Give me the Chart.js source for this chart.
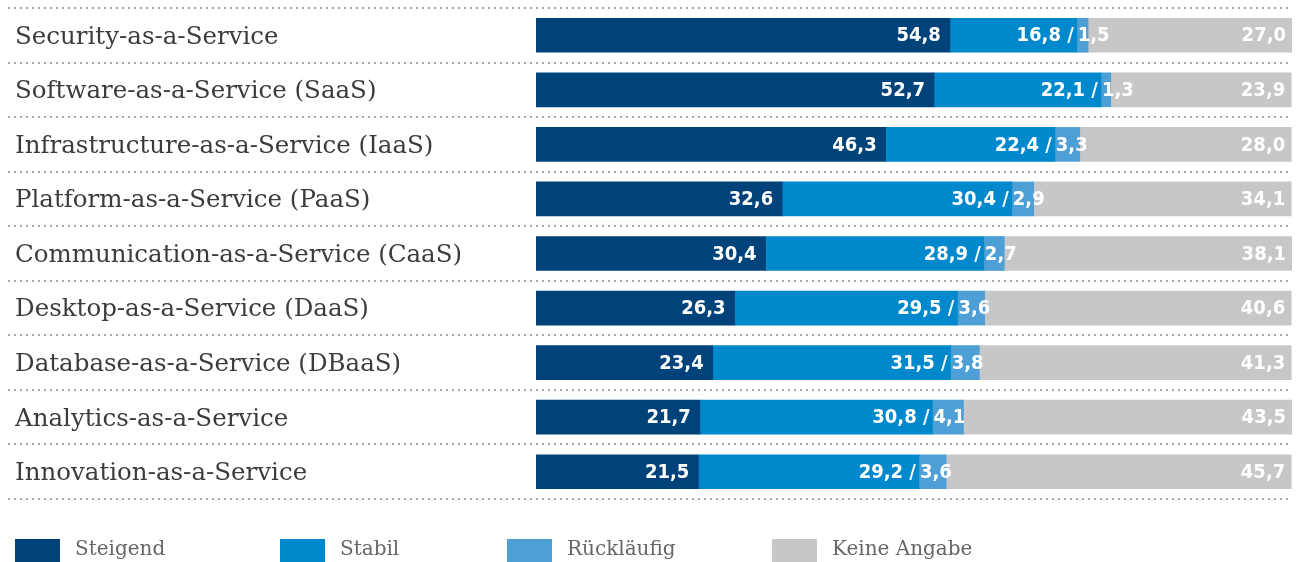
<!DOCTYPE html>
<html>
<head>
<meta charset="utf-8">
<script src="https://cdn.jsdelivr.net/npm/chart.js@4"></script>
<style>
  html, body { margin: 0; padding: 0; background: #fff; }
  #wrap { width: 1299px; height: 562px; position: relative; }
</style>
</head>
<body>
<div id="wrap"><canvas id="chart"></canvas></div>
<script>
// categories
var categories = [
  'Security-as-a-Service',
  'Software-as-a-Service (SaaS)',
  'Infrastructure-as-a-Service (IaaS)',
  'Platform-as-a-Service (PaaS)',
  'Communication-as-a-Service (CaaS)',
  'Desktop-as-a-Service (DaaS)',
  'Database-as-a-Service (DBaaS)',
  'Analytics-as-a-Service',
  'Innovation-as-a-Service'
];
// series (percent)
var steigend    = [54.8, 52.7, 46.3, 32.6, 30.4, 26.3, 23.4, 21.7, 21.5];
var stabil      = [16.8, 22.1, 22.4, 30.4, 28.9, 29.5, 31.5, 30.8, 29.2];
var ruecklaeufig = [1.5, 1.3, 3.3, 2.9, 2.7, 3.6, 3.8, 4.1, 3.6];
var keineAngabe = [27.0, 23.9, 28.0, 34.1, 38.1, 40.6, 41.3, 43.5, 45.7];
var seriesNames = ['Steigend', 'Stabil', 'Rückläufig', 'Keine Angabe'];

var colors = ['#00427a', '#0088cc', '#4d9fd6', '#c6c7c9'];
var labelFont = '"DejaVu Serif", serif';
var valueFont = '"Liberation Sans Narrow", "DejaVu Sans Condensed", sans-serif';

function fmt(v) { return v.toFixed(1).replace('.', ','); }

// dotted separators across the whole width
var separators = {
  id: 'separators',
  beforeDraw: function (chart) {
    var ctx = chart.ctx, area = chart.chartArea;
    var step = (area.bottom - area.top) / categories.length;
    ctx.save();
    ctx.fillStyle = '#8a8a8a';
    for (var i = 0; i <= categories.length; i++) {
      var yy = Math.round(area.top + i * step);
      for (var x = 9; x < area.right; x += 6) {
        ctx.beginPath();
        ctx.arc(x, yy, 1, 0, Math.PI * 2);
        ctx.fill();
      }
    }
    ctx.restore();
  }
};

// values inside the bars
var valueLabels = {
  id: 'valueLabels',
  afterDatasetsDraw: function (chart) {
    var ctx = chart.ctx;
    ctx.save();
    ctx.fillStyle = '#fff';
    ctx.font = 'bold 20px ' + valueFont;
    ctx.textBaseline = 'middle';
    var m0 = chart.getDatasetMeta(0).data,
        m1 = chart.getDatasetMeta(1).data,
        m3 = chart.getDatasetMeta(3).data;
    for (var i = 0; i < categories.length; i++) {
      var yy = m0[i].y + 1;
      ctx.textAlign = 'right';
      ctx.fillText(fmt(steigend[i]), m0[i].x - 9, yy);
      ctx.fillText(fmt(stabil[i]) + ' /', m1[i].x - 3, yy);
      ctx.fillText(fmt(keineAngabe[i]), m3[i].x - 6, yy);
      ctx.textAlign = 'left';
      ctx.fillText(fmt(ruecklaeufig[i]), m1[i].x + 1, yy);
    }
    ctx.restore();
  }
};

// legend at fixed positions
var customLegend = {
  id: 'customLegend',
  afterDraw: function (chart) {
    var ctx = chart.ctx;
    var xs = [15, 280, 507, 772];
    ctx.save();
    ctx.font = '20px ' + labelFont;
    ctx.textBaseline = 'middle';
    ctx.textAlign = 'left';
    for (var i = 0; i < seriesNames.length; i++) {
      ctx.fillStyle = colors[i];
      ctx.fillRect(xs[i], 539, 45, 23);
      ctx.fillStyle = '#666';
      ctx.fillText(seriesNames[i], xs[i] + 60, 550);
    }
    ctx.restore();
  }
};

var chart = new Chart(document.getElementById('chart'), {
  type: 'bar',
  data: {
    labels: categories,
    datasets: [
      { label: seriesNames[0], data: steigend, backgroundColor: colors[0] },
      { label: seriesNames[1], data: stabil, backgroundColor: colors[1] },
      { label: seriesNames[2], data: ruecklaeufig, backgroundColor: colors[2] },
      { label: seriesNames[3], data: keineAngabe, backgroundColor: colors[3] }
    ]
  },
  options: {
    indexAxis: 'y',
    responsive: true,
    maintainAspectRatio: false,
    animation: false,
    layout: { padding: { left: 15, right: 7, top: 8, bottom: 63 } },
    datasets: { bar: { barThickness: 34, borderWidth: 0 } },
    scales: {
      x: {
        stacked: true,
        min: 0,
        max: 100.1,
        display: false
      },
      y: {
        stacked: true,
        grid: { display: false },
        border: { display: false },
        ticks: {
          crossAlign: 'far',
          color: '#3c3c3c',
          padding: 0,
          labelOffset: 2,
          font: { family: labelFont, size: 24.5 }
        },
        afterFit: function (scale) {
          scale.width = 521;
          scale.paddingTop = 0;
          scale.paddingBottom = 0;
        }
      }
    },
    plugins: {
      legend: { display: false },
      tooltip: { enabled: false }
    }
  },
  plugins: [separators, valueLabels, customLegend]
});
</script>
</body>
</html>
